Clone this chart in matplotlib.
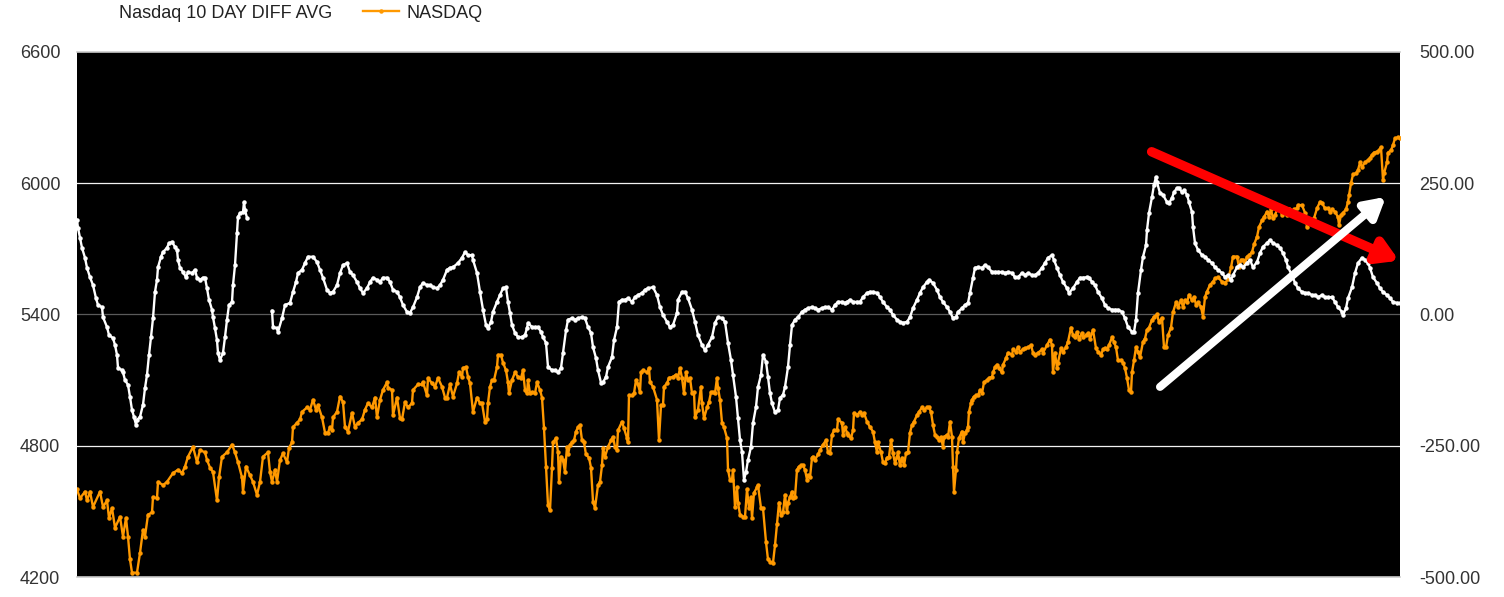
import numpy as np
import matplotlib
matplotlib.use("Agg")
import matplotlib.pyplot as plt
from matplotlib.ticker import FormatStrFormatter

plt.rcParams['font.family'] = ['Liberation Sans', 'DejaVu Sans']

# ---------------- data ----------------
nasdaq_day = [
    0, 1.5, 4, 5, 6.5, 8, 11.5, 13, 15, 16,
    17.5, 19, 21.5, 23, 24.5, 25.5, 26.5, 27.5, 30, 31.5,
    33, 34, 35.5, 37.5, 38, 40, 40.5, 43, 45, 48,
    50.5, 52.5, 54, 55.5, 58, 60, 61.5, 64, 65, 66.5,
    68, 70, 71, 72.5, 75, 77.5, 79, 80.5, 82.5, 83,
    84.5, 86.5, 88, 90, 91.5, 93, 95.5, 96.5, 97.5, 99,
    100, 101.5, 103, 105, 106, 107.5, 108, 110, 111.5, 112.5,
    115, 116.5, 118, 119.5, 120.5, 122.5, 124, 125.5, 126.5, 127.5,
    128, 130, 131.5, 133, 134, 135.5, 137.5, 139, 140.5, 142.5,
    144, 145.5, 147.5, 149, 150, 151.5, 153, 155, 155.5, 157.5,
    158, 160, 161.5, 162.5, 164, 165.5, 167.5, 168, 170.5, 172.5,
    173, 175, 175.5, 177.5, 179, 180.5, 182.5, 184, 185, 186.5,
    188, 190, 191, 192.5, 193, 194.5, 195.5, 196.5, 198, 200,
    201.5, 202.5, 204, 205, 205.5, 206.5, 207.5, 208.5, 210, 210.5,
    212, 213, 214.5, 215.5, 216, 217.5, 219, 220.5, 222, 223,
    224, 225, 225.5, 226.5, 227.5, 229, 230, 231.5, 232.5, 233.5,
    234.5, 235.5, 236.5, 237.5, 238, 239.5, 240.5, 241, 242, 243,
    244, 245, 245.5, 246.5, 247.5, 248.5, 249.5, 250.5, 251.5, 252.5,
    253.5, 254.5, 256, 257, 258, 259, 260.5, 261.5, 262.5, 263,
    264, 265.5, 267, 268, 269, 270, 270.5, 272.5, 273.5, 275,
    275.5, 276, 277.5, 278.5, 279.5, 280.5, 281.5, 282, 283, 285,
    286, 286.5, 288, 290, 291, 292, 293, 293.5, 295, 296,
    298, 299.5, 300.5, 301.5, 302.5, 303.5, 304.5, 305.5, 306.5, 307.5,
    308.5, 309, 310.5, 312, 312.5, 313.5, 315, 316, 317, 318,
    319, 320, 320.5, 321.5, 322.5, 323.5, 325, 325.5, 326.5, 327.5,
    328, 329, 330, 330.5, 331.5, 333, 334, 335, 336, 337,
    337.5, 338.5, 340, 340.5, 342, 343, 344.5, 345.5, 346.5, 348,
    349, 350, 351, 352, 353, 354, 355, 355.5, 356.5, 357.5,
    358, 359, 360, 361, 362, 363, 364, 365, 365.5, 366.5,
    367.5, 368, 369, 370.5, 371.5, 373, 374.5, 375.5, 376.5, 377.5,
    378.5, 380, 380.5, 382.5, 383, 384, 385, 385.5, 387, 388,
    388.5, 390, 391.5, 392.5, 393.5, 395, 396.5, 398, 399, 400,
    400.5, 402, 403, 404, 405, 406, 407, 408, 409, 410,
    410.5, 411.5, 412.5, 413.5, 414.5, 415.5, 416.5, 417.5, 418.5, 420,
    421, 422.5, 423.5, 425, 426, 427, 428, 429, 430, 431,
    432, 433, 433.5, 435, 435.5, 436.5, 437.5, 438, 438.5, 439.5,
    440, 441, 442.5, 443, 444, 445, 445.5, 446, 447, 447.5,
    448.5, 449.5, 450.5, 451.5, 452.5, 453.5, 455, 456, 457.5, 458,
    459, 460, 461, 462.5, 463, 464.5, 465.5, 467.5, 468, 469.5,
    470.5, 471.5, 473, 474, 475.5, 477, 478, 479, 480.5, 482.5,
    483, 485, 486.5, 487.5, 488, 489, 490, 490.5, 492, 493,
    494.5, 495.5, 497, 498, 499, 500, 501, 502.5, 503, 504.5,
    505.5, 506.5, 508, 509.5, 510.5, 512, 513, 514, 515, 516,
    517.5, 518.5, 519.5, 520.5, 522, 523, 524, 525, 526, 527,
    527.5, 528.5, 529.5, 530.5, 531.5, 533, 534, 535, 536, 537.5,
    538.5, 540, 541, 542.5, 543.5, 544.5, 545.5, 547, 548, 549.5,
    550.5, 552, 553, 554, 555, 556, 557.5, 558.5, 559.5, 560.5,
    562, 563, 564, 565, 566.5, 568, 569, 570.5, 572.5, 574,
    575.5, 577, 578, 580, 581, 582, 583, 584, 585, 586,
    587.5, 588.5, 590, 591, 592.5, 593.5, 595, 596, 597, 598,
    599, 600.5, 601.5, 602.5, 603.5, 605, 606, 607.5, 608.5, 610,
    610.5, 612.5, 614, 615, 615.5, 617.5, 618.5, 620, 621.5, 622.5,
    624, 625.5, 626.5, 627.5, 629, 630.5, 631, 632, 633, 634.5,
    635.5, 636, 637, 638, 639.5, 640.5, 641.5, 642.5, 644, 645.5,
    646.5, 647.5, 648.5, 650, 651, 652, 653, 653.5, 655, 655.5,
    657, 658, 659, 660.5, 661.5,
]
nasdaq_close = [
    4600, 4560, 4590, 4550, 4590, 4520, 4590, 4520, 4550, 4470,
    4515, 4425, 4475, 4385, 4470, 4385, 4280, 4220, 4220, 4310,
    4415, 4385, 4485, 4495, 4565, 4560, 4635, 4620, 4635, 4675,
    4690, 4675, 4705, 4750, 4795, 4725, 4780, 4770, 4735, 4700,
    4680, 4550, 4655, 4750, 4770, 4805, 4770, 4725, 4655, 4590,
    4705, 4665, 4635, 4575, 4635, 4750, 4770, 4680, 4635, 4690,
    4635, 4735, 4765, 4725, 4790, 4815, 4885, 4905, 4920, 4955,
    4975, 4965, 5010, 4965, 4985, 4930, 4860, 4860, 4885, 4870,
    4930, 4955, 5025, 5000, 4885, 4865, 4950, 4885, 4905, 4920,
    4965, 4995, 4975, 5020, 4930, 5010, 5055, 5090, 5065, 5055,
    4940, 5020, 4925, 4920, 5000, 4975, 4995, 5055, 5080, 5080,
    5090, 5030, 5110, 5085, 5070, 5110, 5070, 5020, 5020, 5080,
    5025, 5085, 5135, 5115, 5155, 5160, 5115, 5085, 4955, 5020,
    4995, 4995, 4910, 4920, 4995, 5070, 5100, 5100, 5160, 5215,
    5215, 5180, 5145, 5090, 5040, 5100, 5135, 5115, 5110, 5145,
    5055, 5040, 5100, 5040, 5045, 5040, 5090, 5055, 5020, 4880,
    4705, 4530, 4505, 4700, 4815, 4835, 4770, 4635, 4750, 4735,
    4680, 4795, 4760, 4805, 4815, 4825, 4865, 4885, 4895, 4825,
    4815, 4760, 4745, 4700, 4545, 4515, 4620, 4635, 4710, 4790,
    4750, 4795, 4825, 4840, 4795, 4780, 4870, 4910, 4880, 4835,
    4815, 5030, 5030, 5040, 5100, 5080, 5045, 5135, 5145, 5135,
    5155, 5090, 5070, 5010, 4825, 4985, 4985, 5070, 5085, 5110,
    5115, 5125, 5110, 5155, 5110, 5040, 5135, 5100, 5110, 5040,
    5045, 4930, 4965, 5070, 4995, 4925, 4975, 5000, 5045, 5045,
    5040, 5110, 5065, 5010, 4905, 4885, 4835, 4690, 4645, 4645,
    4690, 4520, 4610, 4540, 4485, 4475, 4475, 4600, 4515, 4565,
    4470, 4585, 4610, 4620, 4515, 4515, 4360, 4280, 4270, 4265,
    4345, 4440, 4540, 4485, 4495, 4575, 4495, 4540, 4565, 4590,
    4560, 4565, 4690, 4705, 4710, 4710, 4690, 4645, 4665, 4655,
    4745, 4750, 4735, 4760, 4780, 4805, 4825, 4770, 4765, 4850,
    4870, 4870, 4920, 4905, 4850, 4885, 4860, 4850, 4835, 4870,
    4950, 4940, 4955, 4940, 4950, 4910, 4885, 4865, 4815, 4770,
    4815, 4770, 4725, 4720, 4745, 4750, 4825, 4765, 4720, 4750,
    4770, 4710, 4745, 4710, 4765, 4770, 4860, 4895, 4910, 4940,
    4955, 4975, 4965, 4975, 4975, 4955, 4895, 4850, 4840, 4825,
    4840, 4795, 4840, 4850, 4840, 4910, 4840, 4705, 4590, 4690,
    4770, 4835, 4865, 4815, 4860, 4870, 4885, 4955, 4995, 5010,
    5025, 5030, 5030, 5055, 5040, 5090, 5100, 5110, 5115, 5135,
    5160, 5170, 5155, 5135, 5170, 5200, 5225, 5215, 5240, 5230,
    5250, 5230, 5240, 5245, 5250, 5260, 5225, 5215, 5225, 5240,
    5225, 5260, 5285, 5260, 5135, 5225, 5155, 5180, 5245, 5230,
    5250, 5275, 5340, 5305, 5295, 5320, 5290, 5315, 5295, 5305,
    5315, 5290, 5330, 5245, 5230, 5215, 5240, 5245, 5240, 5260,
    5295, 5275, 5250, 5190, 5190, 5180, 5155, 5110, 5055, 5045,
    5135, 5190, 5250, 5230, 5205, 5275, 5290, 5330, 5340, 5375,
    5390, 5400, 5365, 5385, 5250, 5250, 5305, 5340, 5410, 5455,
    5435, 5465, 5435, 5465, 5455, 5490, 5465, 5480, 5445, 5455,
    5435, 5390, 5480, 5505, 5535, 5550, 5565, 5570, 5550, 5545,
    5560, 5615, 5665, 5665, 5615, 5650, 5650, 5635, 5665, 5670,
    5685, 5720, 5755, 5800, 5830, 5845, 5870, 5845, 5880, 5840,
    5855, 5890, 5880, 5855, 5880, 5855, 5880, 5870, 5880, 5885,
    5900, 5900, 5865, 5800, 5830, 5830, 5840, 5885, 5915, 5910,
    5885, 5885, 5870, 5880, 5870, 5845, 5810, 5855, 5865, 5880,
    5915, 5945, 6000, 6040, 6045, 6060, 6095, 6075, 6095, 6105,
    6115, 6130, 6140, 6145, 6150, 6165, 6015, 6045, 6095, 6140,
    6150, 6175, 6205, 6210, 6205,
]

nan = np.nan
diff_day = [
    0, 0.5, 1.5, 2.5, 4, 5, 6.5, 8, 9.5, 10.5,
    12.5, 13, 15, 16, 18, 19, 20, 20.5, 22.5, 23,
    24, 25.5, 26.5, 27.5, 28.5, 29.5, 30, 31.5, 33, 34,
    35, 36, 37, 38, 39, 40, 40.5, 42, 43, 45,
    46, 47.5, 49, 50, 50.5, 51.5, 53, 54.5, 55.5, 57.5,
    59, 60, 61.5, 63, 64, 65, 66, 67.5, 68, 69,
    70, 70.5, 71.5, 73, 74, 75, 76, 77.5, 78, 79,
    80, 80.5, 81.5, 83, 83.5, 84, 85,
    91,
    97.5, 98, 100, 100.5, 102.5, 104, 106.5, 108, 109.5, 110.5,
    112.5, 114, 115.5, 118, 120, 121.5, 123, 125, 126.5, 128,
    130, 131.5, 133, 135, 136.5, 138, 140, 141.5, 143, 145,
    146.5, 148, 150, 151.5, 153, 155, 156.5, 158, 160, 161.5,
    163, 165, 166.5, 168, 170, 171.5, 173, 175, 176.5, 178,
    180, 181.5, 183, 185, 186.5, 188, 190.5, 192.5, 194, 195.5,
    197.5, 198, 200, 201.5, 203, 204.5, 205.5, 207, 208, 210,
    211.5, 213, 214.5, 215.5, 216.5, 217.5, 219, 220.5, 222.5, 224,
    225, 225.5, 227.5, 229, 230.5, 232, 233, 234.5, 235.5, 237.5,
    239, 240.5, 242, 243, 244.5, 245.5, 247.5, 249, 250.5, 252.5,
    254, 255.5, 257, 258, 259.5, 260.5, 262, 263, 264.5, 265.5,
    267.5, 268.5, 270, 271, 272.5, 274, 275.5, 277.5, 279, 280.5,
    282.5, 284, 285.5, 288, 290, 291.5, 293, 295, 296.5, 298,
    300, 300.5, 302.5, 304, 305.5, 307.5, 309, 310.5, 312.5, 314,
    315.5, 317.5, 319, 320.5, 322.5, 324, 325.5, 327, 328, 329.5,
    330.5, 331.5, 332.5, 333.5, 334.5, 335.5, 337, 338, 339.5, 340.5,
    342, 343, 344.5, 345.5, 346.5, 347.5, 349, 350.5, 351.5, 353,
    354, 355.5, 356.5, 357.5, 359, 360.5, 362.5, 364, 365.5, 367.5,
    369, 370.5, 372.5, 374, 375.5, 377.5, 379, 380.5, 382.5, 384,
    385, 386.5, 388, 390, 391.5, 393, 395, 396.5, 398, 400,
    401.5, 403, 405, 406.5, 408, 410, 411.5, 413, 415, 416.5,
    418, 420, 421.5, 423, 425, 426, 428, 430, 431.5, 433,
    435, 436.5, 438, 439.5, 440.5, 442.5, 444, 445.5, 446.5, 448,
    449, 450.5, 452.5, 454, 455.5, 457.5, 459, 460.5, 462.5, 464,
    465.5, 467.5, 469, 470.5, 472.5, 474, 475.5, 477.5, 479, 480.5,
    482.5, 484, 485.5, 487.5, 488.5, 490, 491.5, 493, 495, 496,
    498, 500, 501.5, 503, 505, 506, 507.5, 509, 510.5, 512.5,
    514, 515.5, 517.5, 519, 520.5, 522.5, 524, 525.5, 527.5, 528.5,
    529.5, 530.5, 532, 533, 534.5, 535, 536, 537.5, 538.5, 539.5,
    540, 541.5, 543, 545, 546, 547.5, 548.5, 550, 551, 552.5,
    553.5, 555, 556, 557.5, 558, 559, 560.5, 562.5, 564, 565.5,
    567.5, 569, 570.5, 572.5, 574, 575.5, 577, 578, 580, 581.5,
    583, 585, 586.5, 588, 590, 591.5, 593, 595, 596.5, 598,
    600, 601.5, 603, 604.5, 605.5, 607.5, 609, 610.5, 612.5, 614,
    615.5, 617.5, 619, 620.5, 622.5, 624, 625.5, 627.5, 629, 630.5,
    632.5, 633, 634.5, 635.5, 637.5, 639, 640.5, 642.5, 644, 645.5,
    646.5, 648, 650, 651.5, 653, 655, 656.5, 658, 660, 661.5,
]
diff_avg = [
    180, 165, 146, 127, 108, 89, 71, 56, 31, 18,
    14, -5, -24, -39, -45, -58, -77, -102, -106, -110,
    -125, -134, -157, -182, -195, -210, -201, -195, -172, -140,
    -115, -77, -43, -7, 43, 66, 90, 110, 119, 127,
    136, 138, 129, 123, 104, 89, 81, 71, 81, 79,
    85, 70, 66, 70, 70, 50, 28, 9, -5, -26,
    -49, -73, -87, -73, -43, -10, 18, 24, 56, 94,
    155, 186, 193, 195, 214, 199, 184,
    nan,
    7, -24, -26, -33, -7, 18, 22, 43, 62, 79,
    85, 98, 110, 110, 100, 85, 70, 47, 41, 43,
    56, 79, 94, 98, 81, 75, 62, 50, 41, 50,
    62, 70, 66, 62, 70, 70, 62, 47, 43, 33,
    18, 5, 3, 14, 33, 52, 60, 56, 56, 52,
    50, 56, 66, 85, 89, 90, 98, 108, 119, 113,
    113, 104, 79, 43, 9, -20, -26, -14, 5, 24,
    37, 50, 52, 24, 3, -20, -35, -43, -43, -39,
    -26, -16, -24, -24, -24, -33, -43, -54, -100, -106,
    -106, -110, -102, -73, -30, -10, -7, -10, -7, -5,
    -7, -24, -35, -62, -83, -106, -130, -129, -119, -100,
    -81, -49, -24, 24, 28, 28, 31, 24, 33, 37,
    41, 47, 50, 52, 37, 14, -1, -14, -24, -20,
    3, 28, 43, 43, 31, 9, -14, -39, -58, -68,
    -58, -43, -16, -5, -7, -14, -54, -87, -115, -157,
    -197, -239, -262, -315, -300, -277, -252, -207, -176, -138,
    -115, -77, -90, -119, -150, -169, -186, -182, -159, -153,
    -138, -100, -58, -20, -10, -5, 5, 9, 12, 14,
    12, 9, 12, 14, 14, 9, 18, 24, 24, 22,
    24, 28, 24, 24, 24, 33, 41, 43, 43, 41,
    33, 24, 14, 9, -1, -10, -14, -16, -14, -5,
    12, 28, 41, 52, 62, 66, 60, 47, 33, 24,
    14, 5, -7, -5, 5, 12, 18, 22, 41, 70,
    89, 90, 89, 94, 90, 81, 81, 81, 81, 79,
    81, 79, 71, 71, 79, 75, 79, 75, 75, 79,
    89, 98, 108, 113, 104, 89, 75, 62, 50, 41,
    50, 62, 70, 70, 71, 70, 62, 56, 43, 31,
    18, 12, 9, 9, 9, 5, -7, -24, -33, -33,
    -10, 41, 85, 110, 132, 161, 193, 224, 247, 262,
    252, 231, 228, 214, 212, 222, 233, 241, 241, 233,
    237, 228, 214, 195, 167, 136, 123, 113, 110, 104,
    98, 90, 85, 79, 71, 75, 66, 75, 90, 94,
    90, 98, 104, 90, 100, 117, 129, 136, 142, 136,
    132, 127, 117, 104, 90, 75, 60, 50, 43, 41,
    41, 37, 37, 33, 37, 33, 33, 33, 24, 14,
    5, -1, 12, 31, 52, 79, 98, 108, 104, 98,
    89, 71, 60, 50, 43, 37, 31, 24, 22, 22,
]

left_ticks = [4200, 4800, 5400, 6000, 6600]
right_ticks = [-500, -250, 0, 250, 500]
series_labels = ["Nasdaq 10 DAY DIFF AVG", "NASDAQ"]

# arrows drawn on the chart (day, NASDAQ level)
red_arrow = [(537.3, 6144), (662.3, 5641)]
white_arrow = [(541.5, 5069), (655.5, 5946)]

assert len(nasdaq_day) == len(nasdaq_close)
assert len(diff_day) == len(diff_avg)

# ---------------- figure ----------------
W, H = 1504, 597
fig = plt.figure(figsize=(W / 100, H / 100), dpi=100)
ax = fig.add_axes([77 / W, 20 / H, 1323 / W, 525 / H])
ax.set_facecolor('black')
ax.set_xlim(0, 661.5)
ax.set_ylim(left_ticks[0], left_ticks[-1])
ax2 = ax.twinx()
ax2.set_ylim(right_ticks[0], right_ticks[-1])

for a in (ax, ax2):
    for s in a.spines.values():
        s.set_visible(False)

ax.set_xticks([])
ax.set_yticks(left_ticks)
ax.yaxis.set_major_formatter(FormatStrFormatter('%d'))
ax.tick_params(axis='y', length=0, pad=12, labelsize=13, labelcolor='#333333')
ax2.set_yticks(right_ticks)
ax2.yaxis.set_major_formatter(FormatStrFormatter('%.2f'))
ax2.tick_params(axis='y', length=0, pad=14, labelsize=13, labelcolor='#333333')

# grid lines
ax.axhline(4800, color='#f2f2f2', lw=0.9, zorder=1)
ax.axhline(6000, color='#f2f2f2', lw=0.9, zorder=1)
ax.axhline(5400, color='#5a5a5a', lw=0.9, zorder=1)
ax.axhline(6600, color='#cccccc', lw=1.2, zorder=1, clip_on=False)
ax.axhline(4200, color='#cccccc', lw=1.2, zorder=1, clip_on=False)

l_nas, = ax.plot(nasdaq_day, nasdaq_close, color='#ff9900', lw=1.7,
                 marker='o', ms=2.2, zorder=3, label=series_labels[1])
l_diff, = ax2.plot(diff_day, diff_avg, color='white', lw=1.7,
                   marker='o', ms=2.2, zorder=3, label=series_labels[0])

# arrows
ax2.annotate('', xy=red_arrow[1], xytext=red_arrow[0],
             xycoords=ax.transData, textcoords=ax.transData,
             annotation_clip=False, zorder=10,
             arrowprops=dict(arrowstyle='-|>,head_length=0.6,head_width=0.36',
                             mutation_scale=20, lw=6.8, color='#ff0000',
                             shrinkA=0, shrinkB=2, capstyle='round',
                             joinstyle='round'))
ax2.annotate('', xy=white_arrow[1], xytext=white_arrow[0],
             xycoords=ax.transData, textcoords=ax.transData,
             annotation_clip=False, zorder=11,
             arrowprops=dict(arrowstyle='-|>,head_length=0.6,head_width=0.34',
                             mutation_scale=20, lw=5.8, color='white',
                             shrinkA=0, shrinkB=2, capstyle='round',
                             joinstyle='round'))

fig.legend([l_diff, l_nas], series_labels, loc='center left',
           bbox_to_anchor=(76 / W, 1 - 13 / H), ncol=2, frameon=False,
           fontsize=13, handlelength=2.0, handletextpad=0.4,
           columnspacing=1.67, borderpad=0, borderaxespad=0,
           labelcolor='#222222')

fig.savefig('out.png', dpi=100, facecolor='white')
